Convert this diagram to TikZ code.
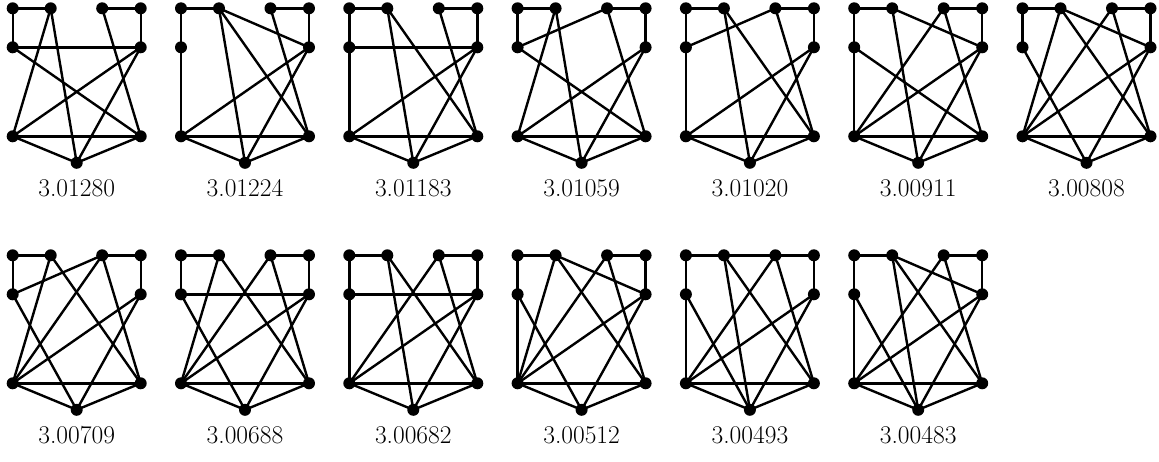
\documentclass[tikz,border=0pt]{standalone}
\tikzset{
  vtx/.style={circle,fill=black,inner sep=0pt,minimum size=12pt},
  edg/.style={line width=2.4pt,line cap=round},
  lbl/.style={anchor=base,inner sep=0pt,font=\fontsize{25.5}{30}\selectfont}
}
\newcommand\mygraph[5]{%
\begin{scope}[shift={(#1,#2)}]
\node[vtx] (#3A) at (0,0) {};
\node[vtx] (#3B) at (38,0) {};
\node[vtx] (#3C) at (89.5,0) {};
\node[vtx] (#3D) at (128,0) {};
\node[vtx] (#3E) at (0,39) {};
\node[vtx] (#3F) at (128,39) {};
\node[vtx] (#3G) at (0,128) {};
\node[vtx] (#3H) at (128,128) {};
\node[vtx] (#3I) at (64,154.5) {};
\node[lbl] (#3L) at (64,188) {#4};
\foreach \u/\v in {#5} \draw[edg] (#3\u.center) -- (#3\v.center);
\end{scope}}
\begin{document}
\begin{tikzpicture}[x=1pt,y=-1pt]
\useasboundingbox (0,0) rectangle (1159,461);
\mygraph{12.7}{8.3}{ga}{3.01280}{A/B,C/D,A/E,D/F,E/F,B/G,B/I,C/H,E/H,F/G,F/I,G/H,G/I,H/I}
\mygraph{181}{8.3}{gb}{3.01224}{A/B,C/D,A/E,E/G,D/F,B/F,B/I,B/H,C/H,F/G,F/I,G/H,G/I,H/I}
\mygraph{349.3}{8.3}{gc}{3.01183}{A/B,C/D,A/E,E/G,D/F,E/F,B/I,B/H,C/H,F/G,F/I,G/H,G/I,H/I}
\mygraph{517.6}{8.3}{gd}{3.01059}{A/B,C/D,A/E,D/F,C/E,E/H,B/G,B/I,C/H,F/G,F/I,G/H,G/I,H/I}
\mygraph{685.9}{8.3}{ge}{3.01020}{A/B,C/D,A/E,E/G,D/F,C/E,B/I,B/H,C/H,F/G,F/I,G/H,G/I,H/I}
\mygraph{854.2}{8.3}{gf}{3.00911}{A/B,C/D,A/E,E/G,D/F,B/F,B/I,C/G,C/H,E/H,F/G,F/I,G/H,G/I,H/I}
\mygraph{1022.5}{8.3}{gg}{3.00808}{A/B,C/D,A/E,D/F,B/G,B/H,B/F,C/G,C/H,E/I,F/G,F/I,G/H,G/I,H/I}
\mygraph{12.7}{255.3}{gh}{3.00709}{A/B,C/D,A/E,D/F,C/E,E/I,B/G,B/H,C/G,C/H,F/G,F/I,G/H,G/I,H/I}
\mygraph{181}{255.3}{gi}{3.00688}{A/B,C/D,A/E,D/F,E/F,E/I,B/G,B/H,C/G,C/H,F/G,F/I,G/H,G/I,H/I}
\mygraph{349.3}{255.3}{gj}{3.00682}{A/B,C/D,A/E,E/G,D/F,E/F,B/I,B/H,C/G,C/H,F/G,F/I,G/H,G/I,H/I}
\mygraph{517.6}{255.3}{gk}{3.00512}{A/B,C/D,A/E,E/G,D/F,B/F,B/G,B/H,C/G,C/H,E/I,F/G,F/I,G/H,G/I,H/I}
\mygraph{685.9}{255.3}{gl}{3.00493}{A/B,B/C,C/D,A/E,E/G,D/F,B/I,B/H,C/G,C/H,E/I,F/G,F/I,G/H,G/I,H/I}
\mygraph{854.2}{255.3}{gm}{3.00483}{A/B,C/D,A/E,E/G,D/F,B/F,B/H,B/I,C/G,C/H,E/I,F/G,F/I,G/H,G/I,H/I}
\end{tikzpicture}
\end{document}
